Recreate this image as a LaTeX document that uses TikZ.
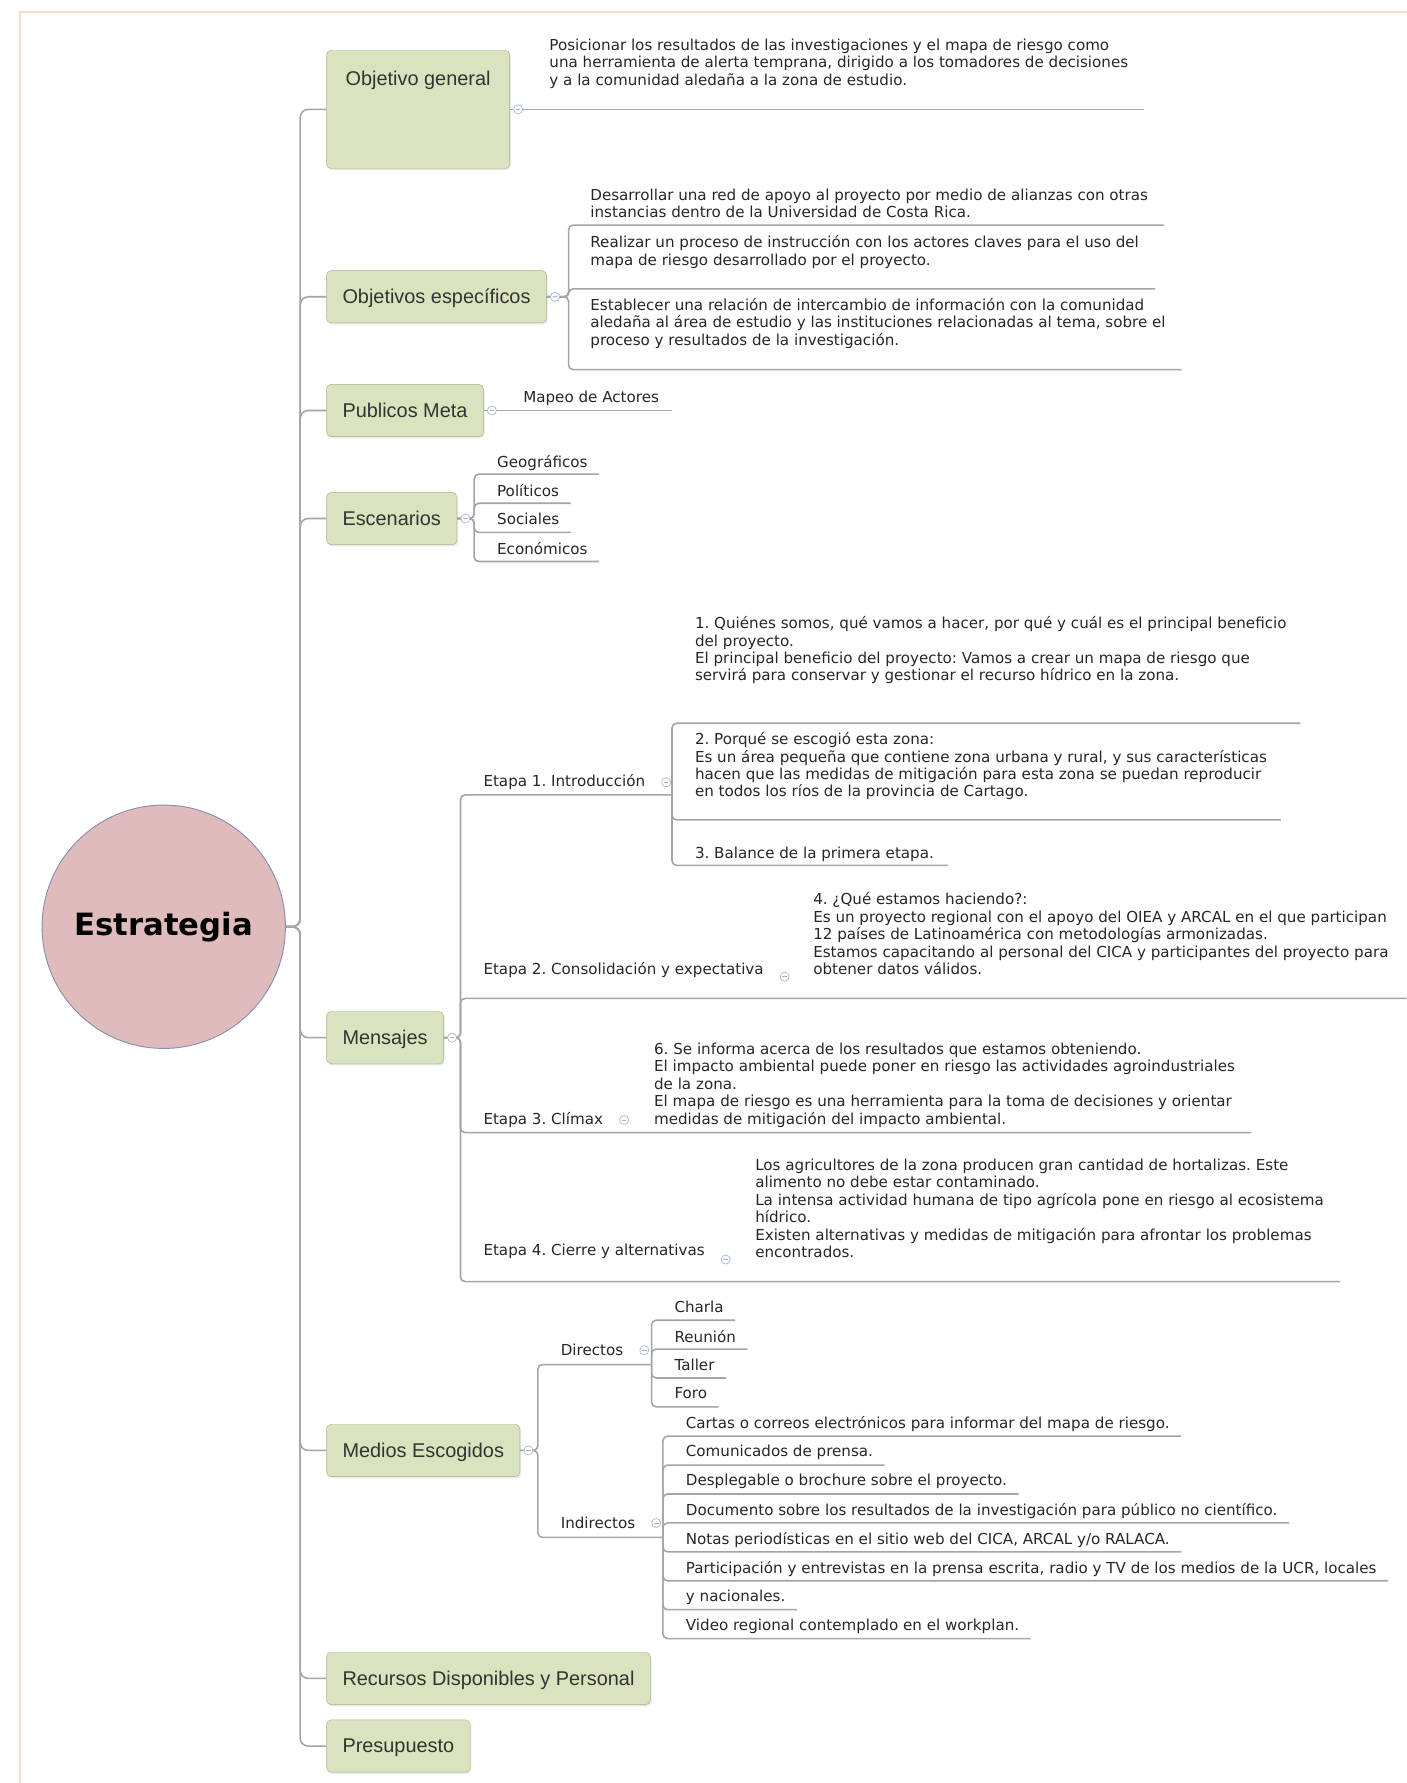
\documentclass[tikz,border=0pt]{standalone}
\usepackage{fontspec}
\setmainfont{DejaVu Sans}
\newfontfamily\boxfont{Liberation Sans}
\usepackage{xcolor}
\definecolor{boxfill}{RGB}{217,228,190}
\definecolor{boxline}{RGB}{168,178,148}
\definecolor{rootfill}{RGB}{223,187,187}
\definecolor{rootline}{RGB}{135,140,180}
\definecolor{linegray}{RGB}{165,165,165}
\definecolor{foldblue}{RGB}{165,180,215}
\definecolor{framepeach}{RGB}{248,218,198}
\usetikzlibrary{
    positioning,
    shadows
}
\tikzstyle{conn} = [
    draw=linegray,
    line width=1.4pt,
    rounded corners=4pt
]

\begin{document}
\begin{tikzpicture}[
  x=1pt, y=-1pt,
  mainbox/.style={draw=boxline, fill=boxfill, rounded corners=4pt, anchor=west,
    font=\boxfont\fontsize{17.5}{21}\selectfont, text=black!80,
    inner xsep=14pt, inner ysep=0pt, text height=29pt, text depth=17pt,
    drop shadow={shadow xshift=1pt, shadow yshift=-1.5pt, opacity=0.18}},
  leaf/.style={font=\fontsize{13.3}{15.3}\selectfont\frenchspacing, text=black!85,
    align=left, inner sep=0pt, anchor=north west},
  foldmark/.style={circle, draw=foldblue, fill=white, line width=0.6pt,
    minimum size=8pt, inner sep=0pt,
    path picture={\draw[foldblue, line width=0.6pt]
      ([xshift=-2pt]path picture bounding box.center) --
      ([xshift=2pt]path picture bounding box.center);}},
  trunk/.style={conn, rounded corners=7pt}
]
\useasboundingbox (0,0) rectangle (1237,1568);

% frame
\draw[framepeach, line width=1.5pt] (17.5,1568) -- (17.5,10.5) -- (1237,10.5);

% centre
\node[circle, draw=rootline, fill=rootfill, line width=0.8pt, minimum size=214pt,
  inner sep=0pt, font=\bfseries\fontsize{27}{30}\selectfont] (root) at (144,815) {Estrategia};

% main topics
\node[mainbox, anchor=north west, minimum width=161pt, text height=31pt, text depth=73pt]
  (og) at (287,44) {Objetivo general};
\node[mainbox] (oe)  at (287,261)    {Objetivos específicos};
\node[mainbox] (pm)  at (287,361)    {Publicos Meta};
\node[mainbox] (esc) at (287,456)    {Escenarios};
\node[mainbox] (men) at (287,912.5)  {Mensajes};
\node[mainbox] (med) at (287,1275.5) {Medios Escogidos};
\node[mainbox] (rec) at (287,1476)   {Recursos Disponibles y Personal};
\node[mainbox] (pre) at (287,1535.5) {Presupuesto};

\foreach \n in {og, oe, pm, esc, men, med, rec, pre}
  \draw[trunk] (root.east) -- (264,815) |- (\n.west);

% Objetivo general
\node[leaf] (og1) at (483,34) {Posicionar los resultados de las investigaciones y el mapa de riesgo como\\una herramienta de alerta temprana, dirigido a los tomadores de decisiones\\y a la comunidad aledaña a la zona de estudio.};
\draw[conn] (og.east) -- ([xshift=14pt]og1.east |- og.east);

% Objetivos especificos
\node[leaf] (oe1) at (519,166) {Desarrollar una red de apoyo al proyecto por medio de alianzas con otras\\instancias dentro de la Universidad de Costa Rica.};
\node[leaf] (oe2) at (519,207) {Realizar un proceso de instrucción con los actores claves para el uso del\\mapa de riesgo desarrollado por el proyecto.};
\node[leaf] (oe3) at (519,262) {Establecer una relación de intercambio de información con la comunidad\\aledaña al área de estudio y las instituciones relacionadas al tema, sobre el\\proceso y resultados de la investigación.};
\foreach \t/\y in {oe1/198, oe2/254, oe3/325}
  \draw[conn] (oe.east) -- (500,261) |- ([xshift=14pt]\t.east |- 0,\y);

% Publicos Meta
\node[leaf] (pm1) at (460,344) {Mapeo de Actores};
\draw[conn] (pm.east) -- ([xshift=11pt]pm1.east |- pm.east);

% Escenarios
\foreach \txt [count=\i] in {Geográficos, Políticos, Sociales, Económicos} {
  \pgfmathsetmacro\yl{417+25.6*(\i-1)}
  \node[leaf] (esc\i) at (437,\yl-17) {\txt};
  \draw[conn] (esc.east) -- (417,456) |- ([xshift=10pt]esc\i.east |- 0,\yl);
}

% Mensajes
\node[leaf] (et1) at (425,681)  {Etapa 1. Introducción};
\node[leaf] (et2) at (425,846)  {Etapa 2. Consolidación y expectativa};
\node[leaf] (et3) at (425,978)  {Etapa 3. Clímax};
\node[leaf] (et4) at (425,1094) {Etapa 4. Cierre y alternativas};

\node[leaf] (t1) at (611,542) {1. Quiénes somos, qué vamos a hacer, por qué y cuál es el principal beneficio\\del proyecto.\\El principal beneficio del proyecto: Vamos a crear un mapa de riesgo que\\servirá para conservar y gestionar el recurso hídrico en la zona.};
\node[leaf] (t2) at (611,644) {2. Porqué se escogió esta zona:\\Es un área pequeña que contiene zona urbana y rural, y sus características\\hacen que las medidas de mitigación para esta zona se puedan reproducir\\en todos los ríos de la provincia de Cartago.};
\node[leaf] (t3) at (611,745) {3. Balance de la primera etapa.};
\node[leaf] (t4) at (715,785) {4. ¿Qué estamos haciendo?:\\Es un proyecto regional con el apoyo del OIEA y ARCAL en el que participan\\12 países de Latinoamérica con metodologías armonizadas.\\Estamos capacitando al personal del CICA y participantes del proyecto para\\obtener datos válidos.};
\node[leaf] (t6) at (575,917) {6. Se informa acerca de los resultados que estamos obteniendo.\\El impacto ambiental puede poner en riesgo las actividades agroindustriales\\de la zona.\\El mapa de riesgo es una herramienta para la toma de decisiones y orientar\\medidas de mitigación del impacto ambiental.};
\node[leaf] (t7) at (664,1019) {Los agricultores de la zona producen gran cantidad de hortalizas. Este\\alimento no debe estar contaminado.\\La intensa actividad humana de tipo agrícola pone en riesgo al ecosistema\\hídrico.\\Existen alternativas y medidas de mitigación para afrontar los problemas\\encontrados.};

\coordinate (s1) at (591,699);
\draw[conn] (men.east) -- (405,912.5) |- (s1);
\draw[conn] (men.east) -- (405,912.5) |- (1237,878);
\draw[conn] (men.east) -- (405,912.5) |- ([xshift=14pt]t6.east |- 0,996);
\draw[conn] (men.east) -- (405,912.5) |- ([xshift=14pt]t7.east |- 0,1127);
\foreach \t/\y in {t1/636, t2/721, t3/761}
  \draw[conn] (s1) |- ([xshift=12pt]\t.east |- 0,\y);

% Medios Escogidos
\node[leaf] (dir) at (493,1182) {Directos};
\node[leaf] (ind) at (493,1334) {Indirectos};
\coordinate (sd) at (573,1200);
\coordinate (si) at (583,1352);
\draw[conn] (med.east) -- (473,1275.5) |- (sd);
\draw[conn] (med.east) -- (473,1275.5) |- (si);

\foreach \txt [count=\i] in {Charla, Reunión, Taller, Foro} {
  \pgfmathsetmacro\yl{1161+25.4*(\i-1)}
  \node[leaf] (d\i) at (593,\yl-17) {\txt};
  \draw[conn] (sd) |- ([xshift=10pt]d\i.east |- 0,\yl);
}
\foreach \txt [count=\i] in {
    Cartas o correos electrónicos para informar del mapa de riesgo.,
    Comunicados de prensa.,
    Desplegable o brochure sobre el proyecto.,
    Documento sobre los resultados de la investigación para público no científico.,
    {Notas periodísticas en el sitio web del CICA, ARCAL y/o RALACA.},
    {Participación y entrevistas en la prensa escrita, radio y TV de los medios de la UCR, locales},
    y nacionales.,
    Video regional contemplado en el workplan.} {
  \pgfmathsetmacro\yl{1263+25.43*(\i-1)}
  \node[leaf] (i\i) at (603,\yl-17.5) {\txt};
  \draw[conn] (si) |- ([xshift=10pt]i\i.east |- 0,\yl);
}

% collapse marks
\foreach \n in {og, oe, pm, esc, men, med}
  \node[foldmark, right=3pt of \n.east] (f\n) {};
\foreach \n in {et1, et3, dir, ind}
  \node[foldmark, right=14pt of \n.east] (f\n) {};
\node[foldmark, right=14pt of et2.east, yshift=-6pt] (fet2) {};
\node[foldmark, right=14pt of et4.east, yshift=-7pt] (fet4) {};

\end{tikzpicture}
\end{document}
